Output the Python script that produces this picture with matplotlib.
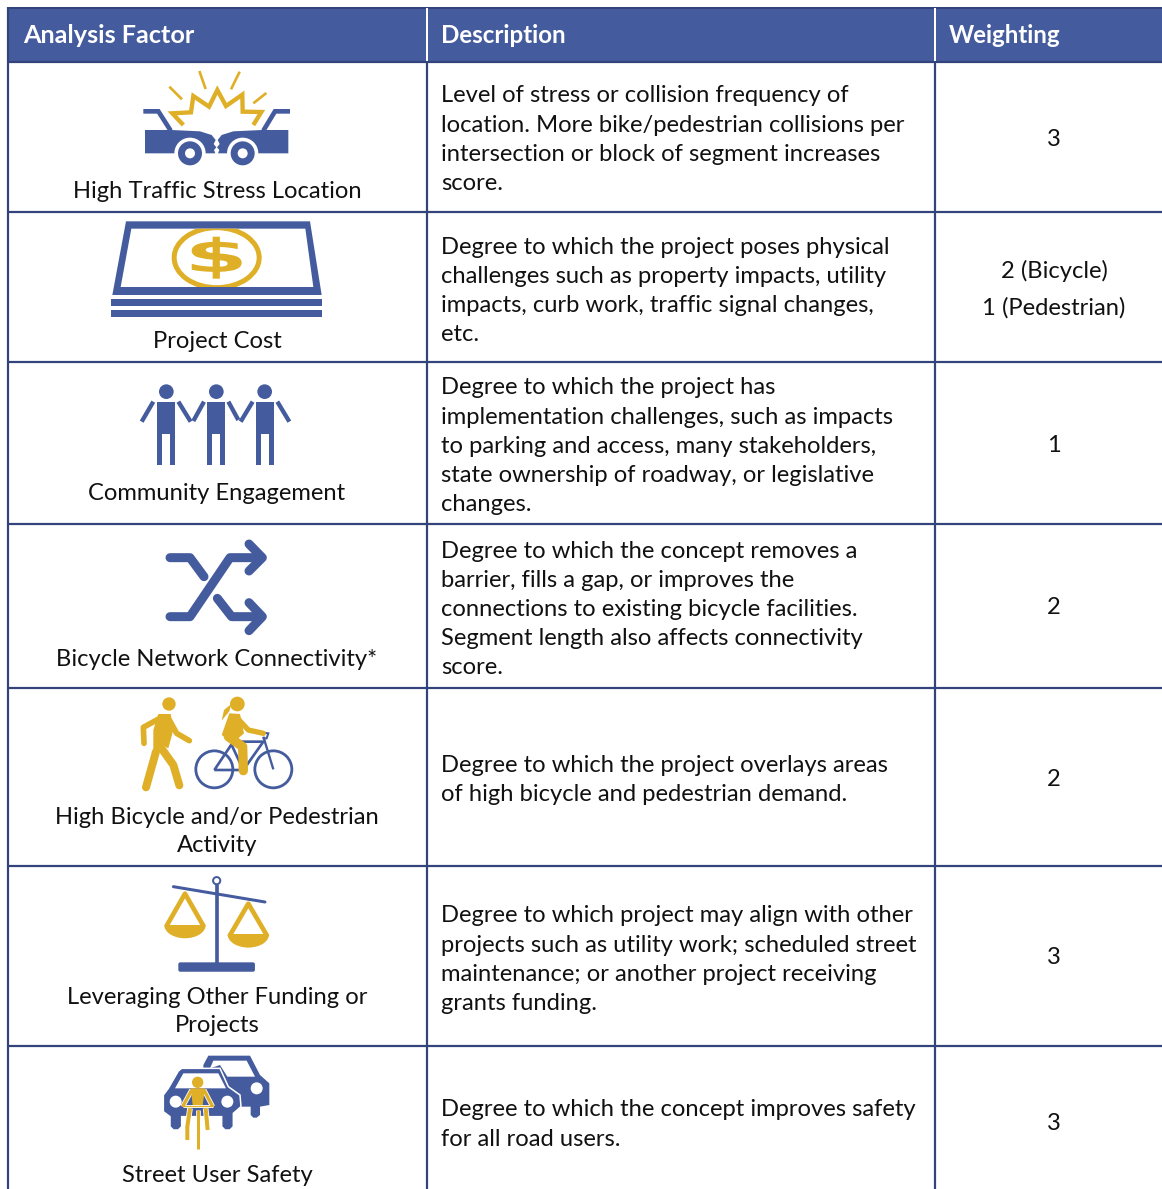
import matplotlib
matplotlib.use("Agg")
import matplotlib.pyplot as plt
from matplotlib.patches import Polygon, Circle, Ellipse, Rectangle, FancyBboxPatch, PathPatch
from matplotlib.textpath import TextPath
from matplotlib.font_manager import FontProperties
from matplotlib.transforms import Affine2D

BLUE = "#445B9E"; NAVY = "#33437C"; GOLD = "#DFAF27"; INK = "#111111"
FONT = ["Lato", "DejaVu Sans"]
FS = 17.08

headers = ["Analysis Factor", "Description", "Weighting"]
header_sizes = [18.2, 17.4, 17.3]
factors = [["High Traffic Stress Location"], ["Project Cost"], ["Community Engagement"],
           ["Bicycle Network Connectivity*"], ["High Bicycle and/or Pedestrian", "Activity"],
           ["Leveraging Other Funding or", "Projects"], ["Street User Safety"]]
descriptions = [
    ["Level of stress or collision frequency of", "location. More bike/pedestrian collisions per",
     "intersection or block of segment increases", "score."],
    ["Degree to which the project poses physical", "challenges such as property impacts, utility",
     "impacts, curb work, traffic signal changes,", "etc."],
    ["Degree to which the project has", "implementation challenges, such as impacts",
     "to parking and access, many stakeholders,", "state ownership of roadway, or legislative", "changes."],
    ["Degree to which the concept removes a", "barrier, fills a gap, or improves the",
     "connections to existing bicycle facilities.", "Segment length also affects connectivity", "score."],
    ["Degree to which the project overlays areas", "of high bicycle and pedestrian demand."],
    ["Degree to which project may align with other", "projects such as utility work; scheduled street",
     "maintenance; or another project receiving", "grants funding."],
    ["Degree to which the concept improves safety", "for all road users."],
]
weights = [["3"], ["2 (Bicycle)", "1 (Pedestrian)"], ["1"], ["2"], ["2"], ["3"], ["3"]]

row_edges = [62, 212, 362, 524, 688, 866, 1046]
col_edges = [8, 427, 935]
label_y = [[190], [340], [491], [658], [815, 844], [995, 1024], [1174]]
desc_y = [94, 245, 386, 549, 763, 914, 1108]
desc_step = 29.1
weight_y = [[137], [270, 306], [443], [606], [777], [956], [1121]]

W, H = 1162, 1189
fig = plt.figure(figsize=(W / 100, H / 100), dpi=100)
ax = fig.add_axes([0, 0, 1, 1])
ax.set_xlim(0, W); ax.set_ylim(H, 0); ax.axis("off")
PX = 0.72
BASE = 8.5


def line(pts, c=BLUE, w=3, cap="butt", join="miter", z=3, **kw):
    xs, ys = zip(*pts)
    ax.plot(xs, ys, color=c, lw=w * PX, solid_capstyle=cap, solid_joinstyle=join, zorder=z, **kw)


class Icon:
    def __init__(self, ox, oy):
        self.ox, self.oy = ox, oy

    def m(self, pts):
        return [(self.ox + x / 3, self.oy + y / 3) for x, y in pts]

    def line(self, pts, c=BLUE, w=9, **kw):
        line(self.m(pts), c, w / 3, **kw)

    def poly(self, pts, c=BLUE, z=3, ec="none", lw=0):
        p = Polygon(self.m(pts), closed=True, fc=c, ec=ec, lw=lw, zorder=z)
        ax.add_patch(p)
        return p

    def circ(self, x, y, r, c=BLUE, z=3):
        (cx, cy), = self.m([(x, y)])
        ax.add_patch(Circle((cx, cy), r / 3, fc=c, ec="none", zorder=z))


# ---------- table frame ----------
ax.add_patch(Rectangle((8, 7), W - 8, 55, fc=BLUE, ec="none", zorder=1))
line([(8, 7.5), (W, 7.5)], NAVY, 2, z=2)
for y in row_edges:
    line([(8, y + 0.3), (W, y + 0.3)], NAVY, 2.2, z=2)
for x in col_edges:
    line([(x, 62), (x, H)], NAVY, 2.2, z=2)
line([(8, 7), (8, 62)], NAVY, 2.2, z=2)
for x in col_edges[1:]:
    line([(x, 8), (x, 61)], "white", 2, z=2)

# ---------- text ----------
for x, t, s in zip([23, 441, 949], headers, header_sizes):
    ax.text(x, 43, t, color="white", fontsize=s, fontweight="bold", family=FONT, va="baseline", ha="left")
for lines, ys in zip(factors, label_y):
    for t, y in zip(lines, ys):
        ax.text(217, y + BASE, t, color=INK, fontsize=FS, family=FONT, ha="center", va="baseline")
for lines, y0 in zip(descriptions, desc_y):
    for i, t in enumerate(lines):
        ax.text(441, y0 + BASE + i * desc_step, t, color=INK, fontsize=FS, family=FONT, ha="left", va="baseline")
for lines, ys in zip(weights, weight_y):
    for t, y in zip(lines, ys):
        ax.text(1054, y + BASE, t, color=INK, fontsize=FS, family=FONT, ha="center", va="baseline")

# ---------- icon 1: crash ----------
ic = Icon(100, 60)
for seg in [[(298, 33), (317, 87)], [(419, 35), (393, 88)], [(208, 80), (246, 118)], [(499, 99), (460, 130)]]:
    ic.line(seg, GOLD, 8)
ic.line([(250, 195), (217, 160), (273, 157), (280, 108), (327, 140), (352, 90), (378, 138),
         (427, 104), (428, 155), (484, 156), (460, 195)], GOLD, 13)
ic.poly([(135, 210), (215, 210), (300, 214), (335, 225), (347, 240), (341, 252), (349, 262), (342, 270),
         (346, 280), (135, 280)])
ic.poly([(565, 210), (485, 210), (400, 214), (365, 225), (353, 240), (359, 252), (351, 262), (358, 270),
         (354, 280), (565, 280)])
ic.line([(130, 154), (175, 154), (212, 212)], BLUE, 14)
ic.line([(570, 154), (525, 154), (490, 212)], BLUE, 14)
for x in (270, 428):
    ic.circ(x, 280, 47, "white", 4)
    ic.circ(x, 280, 36, BLUE, 5)
    ic.circ(x, 280, 15, "white", 6)

# ---------- icon 2: banknote ----------
ic = Icon(100, 60)
ic.poly([(78, 484), (630, 484), (665, 705), (37, 705)])
inner = ic.poly([(94, 506), (616, 506), (640, 681), (62, 681)], "white", 4)
(ecx, ecy), = ic.m([(350, 593)])
e = Ellipse((ecx, ecy), 85, 60, fc="none", ec=GOLD, lw=5 * PX, zorder=5)
ax.add_patch(e); e.set_clip_path(inner)
tp = TextPath((0, 0), "$", size=1, prop=FontProperties(family="DejaVu Sans", weight="bold"))
bb = tp.get_extents()
tr = (Affine2D().translate(-(bb.x0 + bb.x1) / 2, -(bb.y0 + bb.y1) / 2)
      .scale(50 / bb.width, -42 / bb.height).translate(ecx, ecy))
ax.add_patch(PathPatch(tr.transform_path(tp), fc=GOLD, ec="none", zorder=6))
for y0, y1 in ((717, 738), (750, 771)):
    ic.poly([(33, y0), (666, y0), (666, y1), (33, y1)])

# ---------- icon 3: people ----------
ic = Icon(100, 370)
people = [(171, 225, 199), (322, 375, 349), (467, 521, 494)]
arms = [[(160, 95), (125, 155)], [(235, 95), (272, 155)], [(312, 95), (280, 153)], [(385, 95), (415, 150)],
        [(458, 95), (422, 155)], [(532, 95), (568, 155)]]
for x0, x1, hx in people:
    ic.circ(hx, 65, 22)
    ic.poly([(x0, 95), (x1, 95), (x1, 285), (x1 - 15, 285), (x1 - 15, 192), (x0 + 15, 192), (x0 + 15, 285), (x0, 285)])
for a in arms:
    ic.line(a, BLUE, 13)

# ---------- icon 4: shuffle ----------
for pts in ([(210, 563), (270, 563), (312, 620)], [(210, 740), (270, 740), (390, 563), (480, 563)],
            [(352, 685), (395, 740), (480, 740)], [(447, 522), (487, 563), (447, 603)],
            [(447, 698), (487, 740), (447, 782)]):
    ic.line(pts, BLUE, 27, cap="round", join="round")

# ---------- icon 5: pedestrian + cyclist ----------
ic = Icon(120, 690)
R = dict(cap="round", join="round")
ic.circ(147, 42, 20, GOLD)
ic.poly([(115, 72), (152, 72), (160, 120), (145, 175), (135, 170), (100, 200), (100, 120)], GOLD)
ic.line([(125, 82), (70, 112), (72, 160)], GOLD, 17, **R)
ic.line([(148, 90), (170, 130), (208, 152)], GOLD, 17, **R)
ic.line([(108, 185), (78, 292)], GOLD, 24, **R)
ic.line([(128, 180), (160, 225), (178, 286)], GOLD, 24, **R)

for x in (283, 460):
    (cx, cy), = ic.m([(x, 238)])
    ax.add_patch(Circle((cx, cy), 18.5, fc="none", ec=BLUE, lw=2.8 * PX, zorder=3))
ic.line([(283, 240), (370, 240), (430, 155), (340, 155), (283, 240)], BLUE, 8)
ic.line([(335, 165), (370, 240)], BLUE, 8)
ic.line([(430, 140), (460, 238)], BLUE, 7)
ic.line([(430, 128), (445, 130), (440, 145), (428, 145)], BLUE, 6)
ic.circ(352, 42, 22, GOLD, 4)
ic.poly([(334, 42), (312, 60), (305, 92), (328, 64)], GOLD, 4)
ic.poly([(328, 70), (360, 72), (372, 130), (340, 158), (305, 135)], GOLD, 4)
ic.line([(348, 80), (385, 120), (430, 130)], GOLD, 16, z=4, **R)
ic.line([(325, 140), (368, 170), (370, 242)], GOLD, 28, z=4, **R)

# ---------- icon 6: scales ----------
(cx, cy), = ic.m([(290, 572)])
ax.add_patch(Circle((cx, cy), 3.6, fc="white", ec=BLUE, lw=2 * PX, zorder=4))
ic.line([(290, 585), (290, 825)], BLUE, 11)
ic.line([(160, 590), (435, 636)], BLUE, 9, cap="round")
x0, y0 = ic.m([(175, 817)])[0]
ax.add_patch(FancyBboxPatch((x0 + 2, y0 + 2), 76.6 - 4, 9.4 - 4, boxstyle="round,pad=2", fc=BLUE, ec="none", zorder=3))
for px_, top, base in ((195, 605, 705), (385, 635, 733)):
    ic.line([(px_ - 56, base + 4), (px_, top + 6), (px_ + 56, base + 4)], GOLD, 14, join="round")
    (bx, by), = ic.m([(px_, base)])
    bowl = Ellipse((bx, by), 41.5, 26.5, fc=GOLD, ec="none", zorder=3)
    ax.add_patch(bowl)
    bowl.set_clip_path(Rectangle((bx - 25, by), 50, 20, transform=ax.transData))

# ---------- icon 7: cars + cyclist ----------
ic = Icon(140, 1045)
ic.poly([(190, 60), (205, 32), (330, 32), (360, 90), (388, 115), (388, 180), (360, 185), (360, 210), (350, 218),
         (340, 218), (332, 210), (332, 185), (190, 185)])
ic.poly([(210, 70), (220, 47), (320, 47), (345, 95), (262, 95), (240, 60)], "white", 3.2)
ic.circ(350, 130, 18, "white", 3.2)
ic.poly([(70, 150), (85, 130), (115, 78), (125, 70), (240, 70), (265, 125), (300, 150), (303, 185), (280, 205),
         (280, 245), (270, 255), (255, 255), (245, 245), (245, 215), (125, 215), (125, 245), (115, 255), (100, 255),
         (90, 245), (90, 215), (70, 200)], BLUE, 3.4, ec="white", lw=1.1)
ic.poly([(105, 130), (130, 85), (235, 85), (258, 130)], "white", 3.5)
ic.circ(107, 170, 18, "white", 3.5)
ic.circ(262, 170, 18, "white", 3.5)
for col, pad, z in (("white", 5, 5), (GOLD, 0, 6)):
    ic.line([(155, 135), (128, 185)], col, 10 + pad, z=z)
    ic.line([(192, 135), (218, 185)], col, 10 + pad, z=z)
    ic.line([(128, 183), (218, 183)], col, 4 + pad, z=z)
    ic.line([(173, 195), (173, 312)], col, 9 + pad, z=z)
    ic.line([(150, 190), (142, 245), (142, 285)], col, 12 + pad, z=z)
    ic.line([(197, 190), (203, 255)], col, 12 + pad, z=z)
ic.circ(173, 112, 17, GOLD, 6)
ic.poly([(152, 130), (195, 130), (188, 180), (158, 180)], GOLD, 6)

fig.savefig("out.png", dpi=100, facecolor="white")
